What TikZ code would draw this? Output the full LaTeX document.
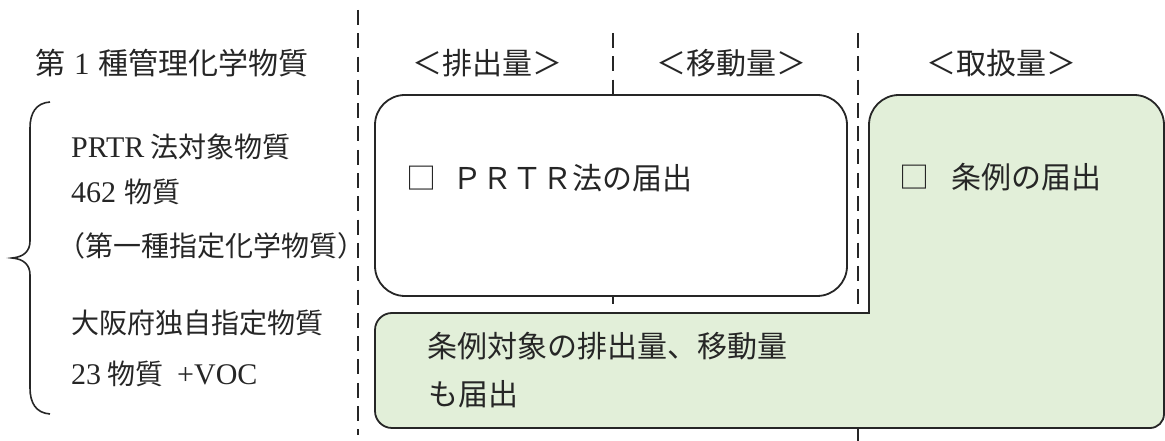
\documentclass[tikz,border=0pt]{standalone}
\usepackage{fontspec}
\setmainfont{Liberation Serif}
\newfontfamily\jp{Noto Sans CJK JP}
\definecolor{lgreen}{RGB}{226,239,217}
\definecolor{ink}{RGB}{38,38,38}
\begin{document}
\begin{tikzpicture}[x=1pt,y=1pt,
  boxline/.style={draw=ink, line width=1.8pt},
  sepline/.style={draw=ink, line width=2pt, dash pattern=on 15pt off 8.3pt},
  bracel/.style={draw=ink, line width=1.6pt},
  lefttxt/.style={inner sep=0pt, anchor=base west, text=ink, font=\fontsize{30}{36}\selectfont},
  jpl/.style={font=\jp\fontsize{28}{34}\selectfont},
  titletxt/.style={inner sep=0pt, anchor=base west, text=ink, font=\fontsize{31}{36}\selectfont},
  hdrtxt/.style={inner sep=0pt, anchor=base, text=ink, font=\jp\fontsize{30}{36}\selectfont},
  boxtxt/.style={inner sep=0pt, anchor=base west, text=ink, font=\jp\fontsize{30}{36}\selectfont}]
\useasboundingbox (0,0) rectangle (1165,441);

% separator lines
\coordinate (s1a) at (358,431); \coordinate (s1b) at (358,6);
\coordinate (s2a) at (613,408); \coordinate (s2b) at (613,100);
\coordinate (s3a) at (858,408); \coordinate (s3b) at (858,0);
\draw[sepline] (s1a) -- (s1b);
\draw[sepline] (s2a) -- (s2b);
\draw[sepline] (s3a) -- (s3b);

% PRTR box
\draw[boxline, fill=white, rounded corners=30pt] (375,145) rectangle (847,346);

% green L-shaped box
\draw[boxline, fill=lgreen]
  (375,111) -- (375,30) arc[start angle=180, end angle=270, radius=17]
  -- (1150,13) arc[start angle=270, end angle=360, radius=14]
  -- (1164,316) arc[start angle=0, end angle=90, radius=30]
  -- (899,346) arc[start angle=90, end angle=180, radius=30]
  -- (869,128) -- (392,128) arc[start angle=90, end angle=180, radius=17]
  -- cycle;

% brace
\draw[bracel] (50,339) .. controls (36,338) and (30,328) .. (30,313)
  -- (30,200) .. controls (30,190) and (24,184) .. (12,183)
  .. controls (24,182) and (30,176) .. (30,166)
  -- (30,53) .. controls (30,38) and (36,28) .. (50,27);

% title and headers
\node[titletxt] (title) at (35,366) {{\jp\fontsize{30}{36}\selectfont 第}\hspace{9pt}1\hspace{9pt}{\jp\fontsize{30}{36}\selectfont 種管理化学物質}};
\node[hdrtxt] (h1) at (487,366) {＜排出量＞};
\node[hdrtxt] (h2) at (731,366) {＜移動量＞};
\node[hdrtxt] (h3) at (1001,366) {＜取扱量＞};

% left texts
\node[lefttxt] (l1) at (71,283.4) {PRTR\hspace{6pt}{\jp\fontsize{28}{34}\selectfont 法対象物質}};
\node[lefttxt] (l2) at (71,238.4) {462\hspace{8pt}{\jp\fontsize{28}{34}\selectfont 物質}};
\node[lefttxt, jpl] (l3) at (57,184.4) {（第一種指定化学物質）};
\node[lefttxt, jpl] (l4) at (71,107.4) {大阪府独自指定物質};
\node[lefttxt] (l5) at (71,56.4) {23\hspace{6pt}{\jp\fontsize{28}{34}\selectfont 物質}\hspace{14pt}+VOC};

% box texts
\node[boxtxt] (t1) at (406,251) {□\hspace{16pt}ＰＲＴＲ法の届出};
\node[boxtxt] (t2) at (899,252) {□\hspace{22pt}条例の届出};
\node[boxtxt] (t3) at (427,83.1) {条例対象の排出量、移動量};
\node[boxtxt] (t4) at (428,35.1) {も届出};
\end{tikzpicture}
\end{document}
